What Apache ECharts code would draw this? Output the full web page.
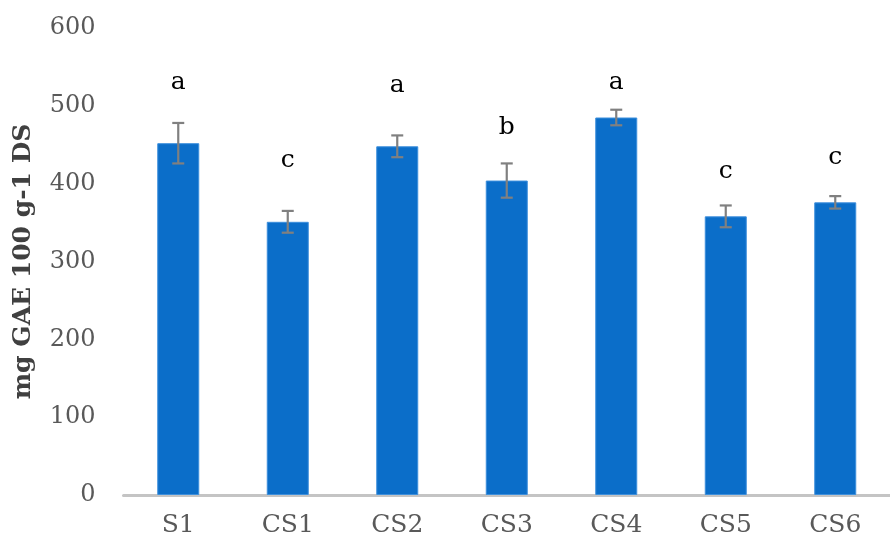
<!DOCTYPE html>
<html>
<head>
<meta charset="utf-8">
<script src="https://cdn.jsdelivr.net/npm/echarts@6/dist/echarts.min.js"></script>
<style>
  html, body { margin: 0; padding: 0; background: #ffffff; }
  #chart { width: 890px; height: 549px; }
</style>
</head>
<body>
<div id="chart"></div>
<script>
// Total phenolic content per sample
const categories = ['S1', 'CS1', 'CS2', 'CS3', 'CS4', 'CS5', 'CS6'];
const means = [452, 351, 448, 404, 485, 358, 376];
const errors = [26, 14, 14, 22, 10, 14, 8];
// Significance groups and the level (in axis units) where each letter sits
const letters = ['a', 'c', 'a', 'b', 'a', 'c', 'c'];
const letterY = [530, 430, 526, 472, 530, 415, 433];
const yTicks = { min: 0, max: 600, interval: 100 };

const serif = '"DejaVu Serif", "Liberation Serif", serif';

const chart = echarts.init(document.getElementById('chart'));

chart.setOption({
  backgroundColor: '#ffffff',
  animation: false,
  grid: { left: 123.5, right: -10.5, top: 28, bottom: 54, containLabel: false },
  xAxis: {
    type: 'category',
    data: categories,
    axisLine: { show: true, lineStyle: { color: '#c4c4c4', width: 3 } },
    axisTick: { show: false },
    axisLabel: { color: '#595959', fontFamily: serif, fontSize: 25, margin: 18 }
  },
  yAxis: {
    type: 'value',
    min: yTicks.min,
    max: yTicks.max,
    interval: yTicks.interval,
    name: 'mg GAE 100 g-1 DS',
    nameLocation: 'middle',
    nameGap: 88,
    nameTextStyle: { color: '#404040', fontFamily: serif, fontSize: 25, fontWeight: 'bold' },
    axisLine: { show: false },
    axisTick: { show: false },
    splitLine: { show: false },
    axisLabel: { color: '#595959', fontFamily: serif, fontSize: 24, margin: 28 }
  },
  series: [
    {
      type: 'bar',
      data: means,
      barWidth: 42,
      itemStyle: { color: '#0b6ec9', borderColor: '#3d8fdc', borderWidth: 1 }
    },
    {
      // error bars: mean ± error with caps
      type: 'custom',
      data: means.map((m, i) => [i, m - errors[i], m + errors[i]]),
      renderItem: function (params, api) {
        const x = api.value(0);
        const lo = api.coord([x, api.value(1)]);
        const hi = api.coord([x, api.value(2)]);
        const half = 6;
        const style = { stroke: '#808080', lineWidth: 2.2, fill: null };
        return {
          type: 'group',
          children: [
            { type: 'line', shape: { x1: lo[0], y1: lo[1], x2: hi[0], y2: hi[1] }, style },
            { type: 'line', shape: { x1: hi[0] - half, y1: hi[1], x2: hi[0] + half, y2: hi[1] }, style },
            { type: 'line', shape: { x1: lo[0] - half, y1: lo[1], x2: lo[0] + half, y2: lo[1] }, style }
          ]
        };
      },
      z: 5
    },
    {
      // significance letters
      type: 'custom',
      data: letterY.map((y, i) => [i, y]),
      renderItem: function (params, api) {
        const p = api.coord([api.value(0), api.value(1)]);
        return {
          type: 'text',
          x: p[0],
          y: p[1],
          style: {
            text: letters[params.dataIndex],
            fill: '#000000',
            font: '25px ' + serif,
            align: 'center',
            verticalAlign: 'middle'
          }
        };
      },
      z: 6
    }
  ]
});
</script>
</body>
</html>
